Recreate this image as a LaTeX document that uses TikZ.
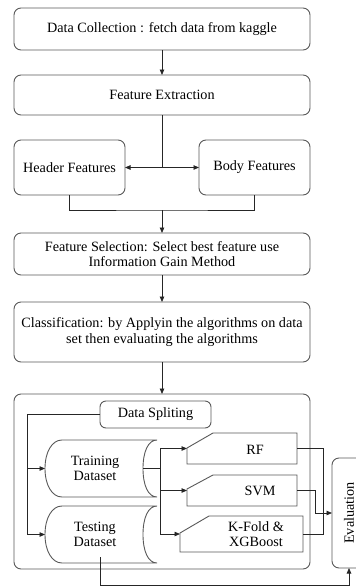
\documentclass[tikz,border=0pt]{standalone}
\usepackage{fontspec}
\setmainfont{Liberation Serif}
\usetikzlibrary{arrows.meta,calc}
\begin{document}
\begin{tikzpicture}[x=1pt,y=-1pt,
 font=\fontsize{14.2}{15.5}\selectfont,
 box/.style={draw=black!65, line width=0.9pt, rounded corners=7pt, fill=white, inner sep=0pt, outer sep=0pt, align=center},
 shp/.style={draw=black!65, line width=0.9pt, fill=white},
 hold/.style={inner sep=0pt, outer sep=0pt},
 txt/.style={inner sep=0pt, align=center},
 conn/.style={draw=black!85, line width=0.8pt},
 arr/.style={conn, -{Triangle[length=5.5pt,width=4.5pt]}}
]
\useasboundingbox (0,0) rectangle (356,587);
\clip (0,0) rectangle (356,587);

% upper chain
\node[box, minimum width=296pt, minimum height=42pt] (dc) at (162,29) {Data Collection : fetch data from kaggle};
\node[box, minimum width=296pt, minimum height=40pt] (fe) at (162,95) {Feature Extraction};
\node[box, minimum width=111pt, minimum height=55pt] (hf) at (69.5,167.5) {Header Features};
\node[box, minimum width=111pt, minimum height=55pt] (bf) at (254.5,167.5) {Body Features};
\node[box, minimum width=296pt, minimum height=42pt] (fs) at (162,254) {Feature Selection: Select best feature use\\Information Gain Method};
\node[box, minimum width=296pt, minimum height=60pt] (cl) at (162,332) {Classification: by Applyin the algorithms on data\\set then evaluating the algorithms};

\draw[arr] (dc) -- (fe);
\coordinate (fj) at (162,167.5);
\draw[conn] (fe.south) -- (fj);
\draw[arr] (fj) -- (hf.east);
\draw[arr] (fj) -- (bf.west);
\coordinate (mj) at (162,210);
\draw[conn] (hf.south) |- (mj) -| (bf.south);
\draw[arr] (mj) -- (fs.north);
\draw[arr] (fs) -- (cl);

% container
\node[box, minimum width=296pt, minimum height=175pt] (cont) at (162,481.5) {};
\draw[arr] (cl) -- (cont);

\node[box, rounded corners=6pt, minimum width=111pt, minimum height=27pt] (ds) at (155.5,414.5) {Data Spliting};

% stored data shapes
\node[hold, minimum width=112pt, minimum height=57pt] (train) at (101,468.5) {};
\draw[shp] (157,440) -- (62,440) .. controls (52,440) and (45,452) .. (45,468.5)
  .. controls (45,485) and (52,497) .. (62,497) -- (157,497)
  .. controls (148,497) and (143,485) .. (143,468.5)
  .. controls (143,452) and (148,440) .. (157,440);
\node[txt] (traint) at (95,468.5) {Training\\Dataset};

\node[hold, minimum width=112pt, minimum height=57pt] (test) at (101,534.5) {};
\draw[shp] (157,506) -- (62,506) .. controls (52,506) and (45,518) .. (45,534.5)
  .. controls (45,551) and (52,563) .. (62,563) -- (157,563)
  .. controls (148,563) and (143,551) .. (143,534.5)
  .. controls (143,518) and (148,506) .. (157,506);
\node[txt] (testt) at (95,534.5) {Testing\\Dataset};

% manual input shapes
\node[hold, minimum width=110pt, minimum height=31pt] (rf) at (242,448.5) {};
\draw[shp] (187,464) -- (187,448) -- (213,433) -- (297,433) -- (297,464) -- cycle;
\node[txt] (rft) at (255,450) {RF};

\node[hold, minimum width=110pt, minimum height=31pt] (svm) at (242,490.5) {};
\draw[shp] (187,506) -- (187,489) -- (213,475) -- (297,475) -- (297,506) -- cycle;
\node[txt] (svmt) at (260,491) {SVM};

\node[hold, minimum width=123pt, minimum height=36pt] (kx) at (241.5,534) {};
\draw[shp] (180,552) -- (180,533) -- (209,516) -- (303,516) -- (303,552) -- cycle;
\node[txt] (kxt) at (256,534) {K-Fold \&\\XGBoost};

% evaluation
\node[box, minimum width=34pt, minimum height=110pt] (ev) at (349,513) {};
\node[txt, rotate=90] (evt) at (ev) {Evaluation};

% splitting connectors
\coordinate (sm) at (27,468.5);
\coordinate (sl) at (27,534.5);
\draw[conn] (ds.west) -| (sl);
\draw[arr] (sm) -- (train.west);
\draw[arr] (sl) -- (test.west);

% training to classifiers
\coordinate (tr) at (143,468.5);
\coordinate (tb) at (160,468.5);
\coordinate (bt) at (160,448.5);
\coordinate (bm) at (160,490.5);
\coordinate (bb) at (160,534);
\draw[conn] (tr) -- (tb);
\draw[conn] (bt) -- (bb);
\draw[arr] (bt) -- (rf.west);
\draw[arr] (bm) -- (svm.west);
\draw[arr] (bb) -- (kx.west);

% classifiers to evaluation
\coordinate (om) at (323,513);
\coordinate (sj) at (315,513);
\draw[conn] (rf.east) -| (om);
\draw[conn] (kx.east) -| (om);
\draw[conn] (svm.east) -| (sj);
\draw[arr] (sj) -- (ev.west);

% testing to evaluation
\coordinate (ts) at (100,557);
\coordinate (tl) at (100,585);
\draw[arr] (ts) -- (tl) -| (ev.south);
\end{tikzpicture}
\end{document}
